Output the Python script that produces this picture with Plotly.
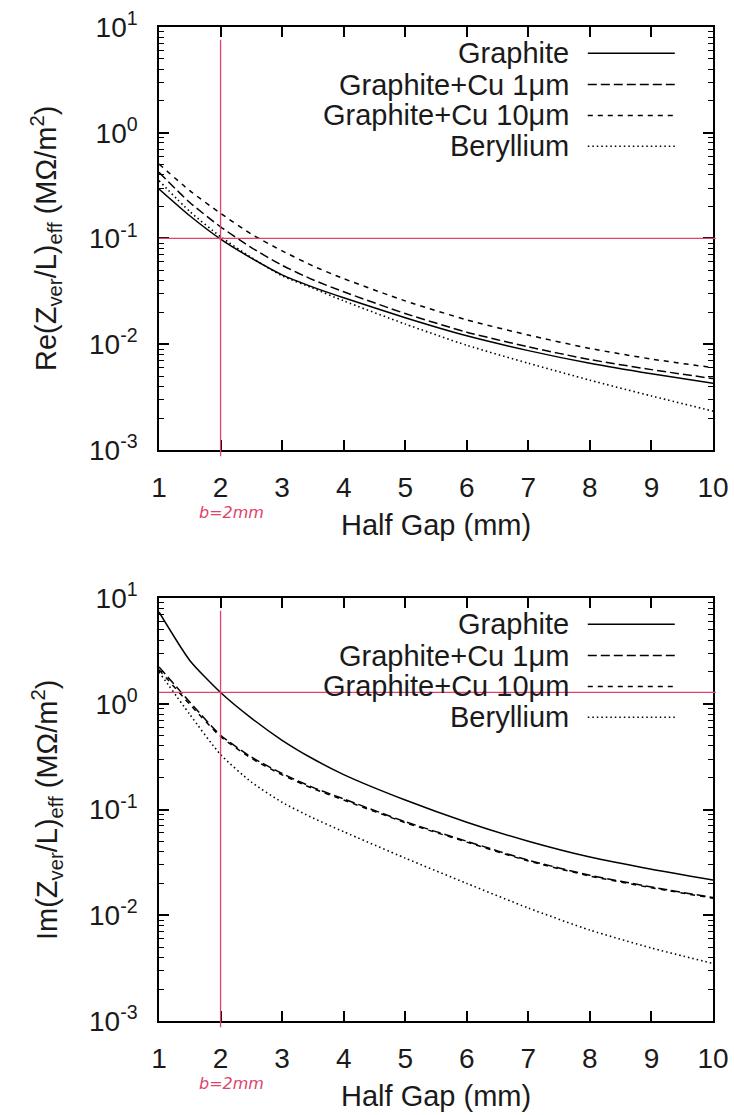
import plotly.graph_objects as go

# ---------------- data ----------------
half_gap = [1, 1.5, 2, 2.5, 3, 3.5, 4, 5, 6, 7, 8, 9, 10]

re_graphite = [0.294, 0.164, 0.0986, 0.0652, 0.0453, 0.0347, 0.0275, 0.0178, 0.0120, 0.0087, 0.0066, 0.00525, 0.00427]
re_cu1 = [0.422, 0.219, 0.129, 0.082, 0.0557, 0.0407, 0.0313, 0.0195, 0.0130, 0.00944, 0.00716, 0.00575, 0.00473]
re_cu10 = [0.506, 0.283, 0.173, 0.110, 0.0764, 0.0550, 0.0417, 0.0257, 0.0170, 0.0122, 0.00912, 0.00724, 0.0060]
re_be = [0.352, 0.180, 0.104, 0.066, 0.0444, 0.0339, 0.0257, 0.0155, 0.00977, 0.00661, 0.00457, 0.00324, 0.00233]

im_graphite = [7.38, 2.57, 1.28, 0.733, 0.452, 0.302, 0.214, 0.123, 0.0759, 0.0501, 0.0355, 0.0272, 0.0215]
im_cu1 = [2.23, 1.04, 0.504, 0.314, 0.219, 0.162, 0.126, 0.0767, 0.0501, 0.0332, 0.0239, 0.0185, 0.0147]
im_cu10 = [2.10, 0.99, 0.49, 0.305, 0.213, 0.158, 0.123, 0.0752, 0.0492, 0.0326, 0.0235, 0.0182, 0.0145]
im_be = [2.0, 0.794, 0.331, 0.182, 0.117, 0.0832, 0.0617, 0.0347, 0.0200, 0.0117, 0.00724, 0.0049, 0.0035]

series_names = ["Graphite", "Graphite+Cu 1\u03bcm", "Graphite+Cu 10\u03bcm", "Beryllium"]
x_ticks = [1, 2, 3, 4, 5, 6, 7, 8, 9, 10]
y_ticks = [1e-3, 1e-2, 1e-1, 1e0, 1e1]
y_ticktext = ["10<sup>-3</sup>", "10<sup>-2</sup>", "10<sup>-1</sup>", "10<sup>0</sup>", "10<sup>1</sup>"]
marker_gap = 2          # b = 2 mm
re_ref = 0.1
im_ref = 1.28

# ---------------- styles ----------------
FONT = "Liberation Sans, Arial, sans-serif"
TXT = "#1a1a1a"
RED = "#e0426a"
dashes = ["solid", "9px,4px", "5px,5px", "1.5px,3px"]
widths = [1.5, 1.5, 1.5, 1.6]

fig = go.Figure()

def add_panel(series, xa, ya):
    for name, vals, d, w in zip(series_names, series, dashes, widths):
        fig.add_trace(go.Scatter(
            x=half_gap, y=vals, mode="lines", name=name, showlegend=False,
            line=dict(color="black", width=w, dash=d, shape="spline", smoothing=0.6),
            xaxis=xa, yaxis=ya))

add_panel([re_graphite, re_cu1, re_cu10, re_be], "x", "y")
add_panel([im_graphite, im_cu1, im_cu10, im_be], "x2", "y2")

minor_vals = [m * 10 ** e for e in range(-3, 1) for m in range(2, 10)]

def xaxis_cfg(anchor):
    return dict(range=[1, 10], tickvals=x_ticks, ticks="inside", ticklen=10, tickwidth=1.5,
                tickcolor="black", showline=True, linecolor="black", linewidth=1.5,
                mirror="allticks", showgrid=False, zeroline=False, anchor=anchor,
                automargin=False, ticklabeloverflow="allow",
                tickfont=dict(family=FONT, size=28, color=TXT), ticklabelstandoff=12)

def yaxis_cfg(domain, anchor):
    return dict(type="log", range=[-3, 1], domain=domain, tickvals=y_ticks, ticktext=y_ticktext,
                ticks="inside", ticklen=10, tickwidth=1.5, tickcolor="black", showline=True,
                linecolor="black", linewidth=1.5, mirror="allticks", showgrid=False,
                zeroline=False, anchor=anchor, automargin=False, ticklabeloverflow="allow",
                minor=dict(tickmode="array", tickvals=minor_vals, ticks="inside", ticklen=5,
                           tickwidth=1.2, tickcolor="black", showgrid=False),
                tickfont=dict(family=FONT, size=28, color=TXT), ticklabelstandoff=14)

fig.update_layout(
    width=734, height=1115,
    margin=dict(l=159, r=21, t=27, b=94),
    paper_bgcolor="white", plot_bgcolor="white",
    showlegend=False,
    xaxis=xaxis_cfg("y"),
    yaxis=yaxis_cfg([0.5745, 1.0], "x"),
    xaxis2=xaxis_cfg("y2"),
    yaxis2=yaxis_cfg([0.0, 0.4255], "x2"),
)

# reference (hand-drawn) red lines
for xr, yr, level in [("x", "y", re_ref), ("x2", "y2", im_ref)]:
    fig.add_shape(type="line", xref=xr, yref=yr + " domain", x0=marker_gap, x1=marker_gap,
                  y0=-0.015, y1=0.97, line=dict(color=RED, width=1.3))
    fig.add_shape(type="line", xref=xr + " domain", yref=yr, x0=0, x1=1.005,
                  y0=level, y1=level, line=dict(color=RED, width=1.3))

# gnuplot-style legend (text right-aligned, sample to the right)
row_y = [0.938, 0.864, 0.791, 0.718]
for xr, yr in [("x", "y"), ("x2", "y2")]:
    for name, d, w, ry in zip(series_names, dashes, widths, row_y):
        fig.add_annotation(text=name, xref=xr + " domain", yref=yr + " domain",
                           x=0.744, y=ry, xanchor="right", yanchor="middle", showarrow=False,
                           font=dict(family=FONT, size=29, color=TXT))
        fig.add_shape(type="line", xref=xr + " domain", yref=yr + " domain",
                      x0=0.774, x1=0.931, y0=ry, y1=ry,
                      line=dict(color="black", width=w, dash=d))

# axis titles
titles = [("y", "Re(Z<sub>ver</sub>/L)<sub>eff</sub> (M\u03a9/m<sup>2</sup>)"),
          ("y2", "Im(Z<sub>ver</sub>/L)<sub>eff</sub> (M\u03a9/m<sup>2</sup>)")]
for yr, t in titles:
    fig.add_annotation(text=t, xref="paper", yref=yr + " domain", x=-0.203, y=0.5,
                       xanchor="center", yanchor="middle", textangle=-90, showarrow=False,
                       font=dict(family=FONT, size=29, color=TXT))
for xr, yr in [("x", "y"), ("x2", "y2")]:
    fig.add_annotation(text="Half Gap (mm)", xref=xr + " domain", yref=yr + " domain",
                       x=0.5, y=-0.178, xanchor="center", yanchor="middle", showarrow=False,
                       font=dict(family=FONT, size=29, color=TXT))
    fig.add_annotation(text="<i>b=2mm</i>", xref=xr, yref=yr + " domain", x=marker_gap + 0.17,
                       y=-0.148, xanchor="center", yanchor="middle", showarrow=False,
                       font=dict(family="DejaVu Sans", size=16, color=RED))

# remove the browser's default 8px body margin so the figure fills the window exactly
fig.write_html("out.html", config={"displayModeBar": False},
               post_script="document.body.style.margin='0';")
